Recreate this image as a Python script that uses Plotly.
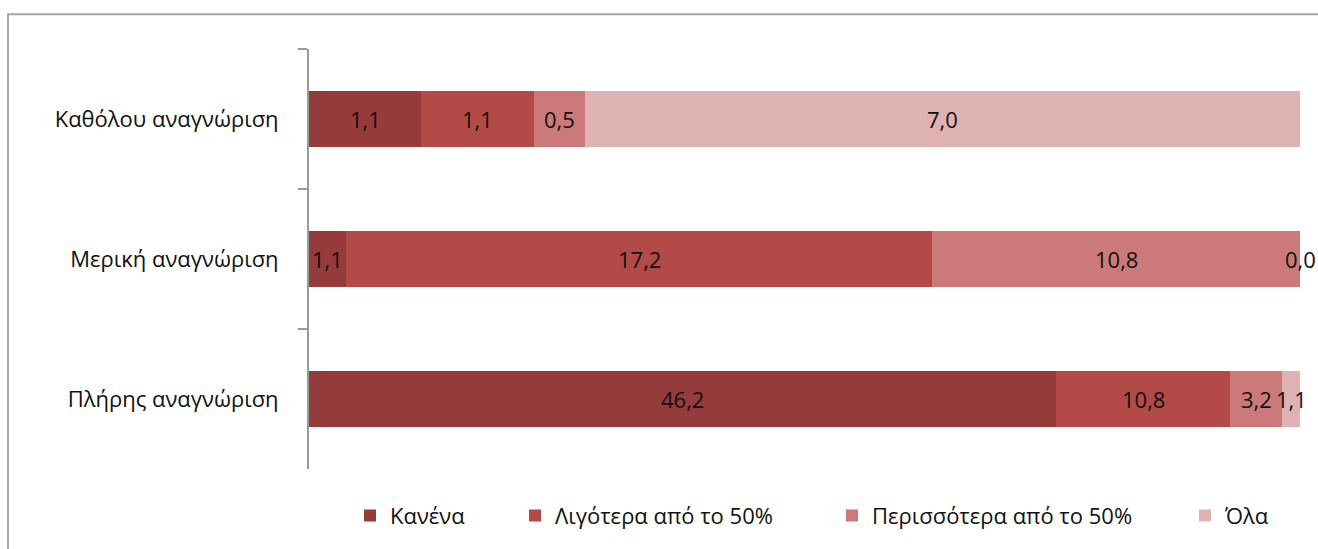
import plotly.graph_objects as go

categories = ["Καθόλου αναγνώριση", "Μερική αναγνώριση", "Πλήρης αναγνώριση"]
series_names = ["Κανένα", "Λιγότερα από το 50%", "Περισσότερα από το 50%", "Όλα"]
kanena = [1.1, 1.1, 46.2]
ligotera = [1.1, 17.2, 10.8]
perissotera = [0.5, 10.8, 3.2]
ola = [7.0, 0.0, 1.1]
colors = ["#953B3B", "#B24A48", "#CB7A79", "#DFB3B3"]

series = [kanena, ligotera, perissotera, ola]
FONT = "'Open Sans', sans-serif"
FS = 22

W, H = 1318, 549
L, R, T, B = 309, 18, 49, 78
pw = W - L - R
ph = H - T - B

fig = go.Figure()
legend_x_px = [350, 515, 832, 1185]
for i, (name, vals, col) in enumerate(zip(series_names, series, colors)):
    lg = "legend" if i == 0 else f"legend{i+1}"
    fig.add_trace(go.Bar(
        y=categories, x=vals, name=name, orientation="h",
        marker=dict(color=col, line=dict(width=0)),
        textposition="none", hoverinfo="x+y+name",
        legend=lg,
    ))

totals = [sum(s[j] for s in series) for j in range(len(categories))]
annotations = []
for j, cat in enumerate(categories):
    cum = 0.0
    for s in series:
        v = s[j]
        pct = v / totals[j] * 100
        mid = cum + pct / 2
        cum += pct
        annotations.append(dict(
            x=mid, y=cat, xref="x", yref="y", text=f"{v:.1f}".replace(".", ","),
            showarrow=False, font=dict(family=FONT, size=FS, color="#111"),
        ))

legend_common = dict(orientation="h", yanchor="middle", xanchor="left",
                     font=dict(family=FONT, size=FS, color="#111"),
                     bgcolor="rgba(0,0,0,0)", itemwidth=30, tracegroupgap=0)
layout_legends = {}
for i, xp in enumerate(legend_x_px):
    key = "legend" if i == 0 else f"legend{i+1}"
    layout_legends[key] = dict(legend_common, x=(xp - L) / pw, y=(H - B - 518) / ph)

fig.update_layout(
    width=W, height=H,
    margin=dict(l=L, r=R, t=T, b=B),
    barmode="stack", barnorm="percent", bargap=0.6,
    paper_bgcolor="white", plot_bgcolor="white",
    showlegend=True,
    xaxis=dict(range=[0, 100], visible=False, fixedrange=True),
    yaxis=dict(autorange="reversed", showline=True, linecolor="#9a9a9a", linewidth=2,
               ticks="outside", tickson="boundaries", ticklen=9, tickcolor="#9a9a9a",
               tickwidth=2, ticklabelstandoff=24,
               tickfont=dict(family=FONT, size=FS, color="#111"), showgrid=False),
    annotations=annotations,
    shapes=[dict(type="rect", xref="paper", yref="paper",
                 x0=(8 - L) / pw, x1=(1330 - L) / pw,
                 y0=(H - B - 560) / ph, y1=(H - B - 14) / ph,
                 line=dict(color="#a8a8a8", width=2), fillcolor="rgba(0,0,0,0)", layer="below")],
    **layout_legends,
)

fig.write_html("out.html", config={"displayModeBar": False})
with open("out.html", encoding="utf-8") as f:
    html = f.read()
html = html.replace("<body>", '<body style="margin:0;overflow:hidden">', 1)
with open("out.html", "w", encoding="utf-8") as f:
    f.write(html)
